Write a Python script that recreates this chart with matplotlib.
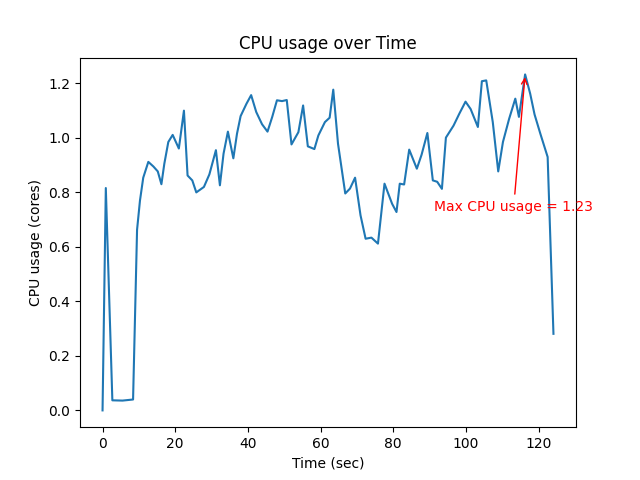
import matplotlib
matplotlib.use('Agg')
import matplotlib.pyplot as plt
import numpy as np


# sample times (sec) and CPU usage (cores)
time_sec = [
    0, 0.9, 2.7, 5.5, 8.4, 9.5, 10.3, 11.2, 12.6, 14.0,
    15.2, 16.2, 17.0, 18.1, 19.3, 21.0, 22.4, 23.4, 24.7, 25.8,
    27.9, 29.4, 31.2, 32.3, 33.3, 34.5, 36.0, 37.0, 38.0, 39.6,
    40.9, 42.3, 43.9, 45.4, 46.7, 48.0, 49.4, 50.7, 52.0, 53.9,
    55.2, 56.5, 58.3, 59.4, 61.2, 62.5, 63.5, 64.8, 66.8, 68.1,
    69.5, 71.0, 72.4, 74.0, 75.8, 77.6, 79.7, 80.9, 81.8, 83.0,
    84.4, 86.5, 87.8, 89.4, 90.9, 92.1, 93.4, 94.5, 96.6, 98.2,
    99.9, 101.3, 103.3, 104.4, 105.6, 107.4, 108.9, 110.2, 111.9, 113.6,
    114.6, 116.3, 117.7, 118.9, 120.5, 122.5, 124.1,
]
cpu_usage = [
    0.0, 0.816, 0.037, 0.036, 0.040, 0.663, 0.77, 0.854, 0.912, 0.895,
    0.877, 0.83, 0.905, 0.985, 1.011, 0.961, 1.10, 0.862, 0.844, 0.80,
    0.82, 0.866, 0.955, 0.826, 0.942, 1.023, 0.925, 1.015, 1.08, 1.125,
    1.157, 1.095, 1.05, 1.023, 1.077, 1.138, 1.135, 1.139, 0.976, 1.021,
    1.119, 0.969, 0.959, 1.009, 1.058, 1.074, 1.177, 0.979, 0.796, 0.814,
    0.854, 0.716, 0.630, 0.634, 0.612, 0.832, 0.758, 0.728, 0.832, 0.829,
    0.957, 0.887, 0.938, 1.018, 0.844, 0.839, 0.813, 1.001, 1.045, 1.089,
    1.133, 1.106, 1.04, 1.208, 1.211, 1.058, 0.877, 0.985, 1.07, 1.144,
    1.077, 1.233, 1.162, 1.086, 1.015, 0.93, 0.281,
]


def main():
    t = np.array(time_sec)
    cpu = np.array(cpu_usage)

    fig, ax = plt.subplots(figsize=(6.4, 4.8), dpi=100)
    ax.plot(t, cpu)

    idx = int(np.argmax(cpu))
    max_t, max_cpu = t[idx], cpu[idx]
    ax.annotate(
        f'Max CPU usage = {max_cpu:.2f}',
        xy=(max_t, max_cpu),
        xytext=(max_t - 25, max_cpu - 0.5),
        color='red',
        arrowprops=dict(arrowstyle='->', color='red'),
    )

    ax.set_title('CPU usage over Time')
    ax.set_xlabel('Time (sec)')
    ax.set_ylabel('CPU usage (cores)')

    fig.savefig('out.png', dpi=100)
    plt.close(fig)


if __name__ == '__main__':
    main()
